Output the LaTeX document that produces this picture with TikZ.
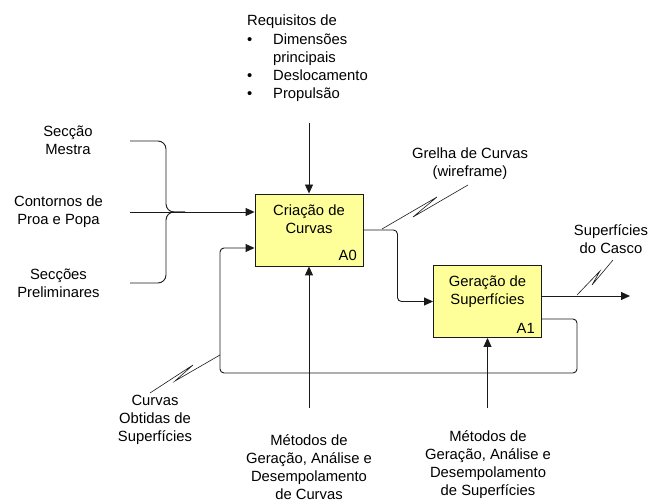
\documentclass[tikz,border=0pt]{standalone}
\usepackage{fontspec}
\setmainfont{Liberation Sans}
\usetikzlibrary{arrows.meta,calc}
\definecolor{boxfill}{HTML}{FFFF99}
\definecolor{linec}{HTML}{1A1A1A}
\begin{document}
\begin{tikzpicture}[x=1pt,y=-1pt,
  lbl/.style={inner sep=0pt,align=center,font={\fontsize{14.8}{18}\selectfont}},
  lline/.style={inner sep=0pt,anchor=base west,font={\fontsize{14.8}{18}\selectfont}},
  funcbox/.style={draw=linec,line width=0.9pt,fill=boxfill,minimum width=108pt,minimum height=72pt,inner sep=0pt},
  conn/.style={draw=linec,line width=0.9pt},
  arr/.style={conn,-{Triangle[length=9pt,width=8pt]}},
  squig/.style={draw=linec,line width=0.6pt}]
\useasboundingbox (0,0) rectangle (651,502);

% boxes
\node[funcbox] (A0) at (309,230) {};
\node[lbl] (A0t) at (309,219) {Criação de\\Curvas};
\node[inner sep=0pt,anchor=base east,font={\fontsize{14.8}{18}\selectfont}] (A0n) at (357,261) {A0};
\node[funcbox] (A1) at (487.5,301.5) {};
\node[lbl] (A1t) at (487.5,292) {Geração de\\Superfícies};
\node[inner sep=0pt,anchor=base east,font={\fontsize{14.8}{18}\selectfont}] (A1n) at (535,334) {A1};

% top control text
\node[lline] (r0) at (247,26) {Requisitos de};
\node[lline] (r1) at (247,45) {\makebox[26pt][l]{•}Dimensões};
\node[lline] (r2) at (273,63) {principais};
\node[lline] (r3) at (247,81) {\makebox[26pt][l]{•}Deslocamento};
\node[lline] (r4) at (247,99) {\makebox[26pt][l]{•}Propulsão};

% left inputs
\node[lbl] (in1) at (68,140) {Secção\\Mestra};
\node[lbl] (in2) at (58.5,212) {Contornos de\\Proa e Popa};
\node[lbl] (in3) at (58.5,283) {Secções\\Preliminares};

% other labels
\node[lbl] (grel) at (470,164) {Grelha de Curvas\\(wireframe)};
\node[lbl] (sup) at (611,239) {Superfícies\\do Casco};
\node[lbl] (cob) at (155,420) {Curvas\\Obtidas de\\Superfícies};
\node[lbl] (m0) at (309,467) {Métodos de\\Geração, Análise e\\Desempolamento\\de Curvas};
\node[lbl] (m1) at (488,465) {Métodos de\\Geração, Análise e\\Desempolamento\\de Superfícies};

% coordinates
\coordinate (c0) at (309,123);
\coordinate (b1) at (130,141);
\coordinate (b2) at (130,212);
\coordinate (b3) at (130,283);
\coordinate (mc0) at (309,408);
\coordinate (mc1) at (487.5,408);
\coordinate (out1) at (630,296);

% control
\draw[arr] (c0) -- (A0.north);
% inputs
\draw[conn,rounded corners=8pt] (b1) -- (166,141) -- (166,212) -- (185,212);
\draw[conn,rounded corners=8pt] (b3) -- (166,283) -- (166,212) -- (185,212);
\draw[arr] (b2) -- ([yshift=18pt]A0.west);
% A0 -> A1
\draw[arr,rounded corners=4pt] (A0.east) -- ++(34,0) |- (A1.west);
% A1 output
\draw[arr] ([yshift=5.5pt]A1.east) -- (out1);
% feedback
\draw[arr,rounded corners=4pt] ([yshift=-17.5pt]A1.east) -- (577,319) -- (577,373) -- (220,373) -- (220,248) -- ([yshift=-18pt]A0.west);
% mechanisms
\draw[arr] (mc0) -- (A0.south);
\draw[arr] (mc1) -- (A1.south);

% squiggles
\draw[squig] (382,229) -- (437,197) -- (413,217) -- (468,185);
\draw[squig] (577,295) -- (600,271) -- (592,285) -- (613,260);
\draw[squig] (220,355) -- (175,381) -- (193,365) -- (150,393);
\end{tikzpicture}
\end{document}
